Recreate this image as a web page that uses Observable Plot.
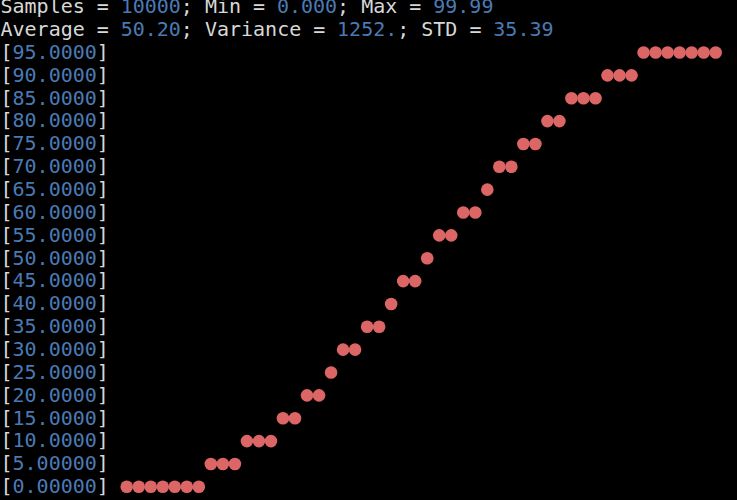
<!DOCTYPE html>
<html>
<head>
<meta charset="utf-8">
<script src="https://cdn.jsdelivr.net/npm/d3@7"></script>
<script src="https://cdn.jsdelivr.net/npm/@observablehq/plot@0.6"></script>
<style>
  html, body { margin: 0; padding: 0; background: #000; overflow: hidden; }
</style>
</head>
<body>
<div id="chart"></div>
<script>
// ---- data ----
const statNames = ["Samples", "Min", "Max", "Average", "Variance", "STD"];
const statValues = ["10000", "0.000", "99.99", "50.20", "1252.", "35.39"];
// bin labels from bottom (0) to top (95)
const binLabels = ["0.00000", "5.00000", "10.0000", "15.0000", "20.0000", "25.0000",
  "30.0000", "35.0000", "40.0000", "45.0000", "50.0000", "55.0000", "60.0000",
  "65.0000", "70.0000", "75.0000", "80.0000", "85.0000", "90.0000", "95.0000"];
// number of dots in each bin row, bottom to top
const binCounts = [7, 3, 3, 2, 2, 1, 2, 2, 1, 2, 1, 2, 2, 1, 2, 2, 2, 3, 3, 7];

// ---- styling ----
const WHITE = "#d8d8d8";
const BLUE = "#4a7ab4";
const DOT = "#dc6565";
const FONT = "DejaVu Sans Mono";

// ---- build text fragments (column / line units) ----
const fragments = [];
function addLine(line, parts) {
  let col = 0;
  for (const [text, color] of parts) {
    fragments.push({ line, col, text, color });
    col += text.length;
  }
  return col;
}
addLine(0, [
  [statNames[0] + " = ", WHITE], [statValues[0], BLUE],
  ["; " + statNames[1] + " = ", WHITE], [statValues[1], BLUE],
  ["; " + statNames[2] + " = ", WHITE], [statValues[2], BLUE]
]);
addLine(1, [
  [statNames[3] + " = ", WHITE], [statValues[3], BLUE],
  ["; " + statNames[4] + " = ", WHITE], [statValues[4], BLUE],
  ["; " + statNames[5] + " = ", WHITE], [statValues[5], BLUE]
]);
const nBins = binLabels.length;
let labelWidth = 0;
binLabels.forEach((lab, k) => {
  const line = 2 + (nBins - 1 - k);
  labelWidth = Math.max(labelWidth, addLine(line, [["[", WHITE], [lab, BLUE], ["]", WHITE]]));
});

// dots: each row continues from where the previous row ended
const dots = [];
let cum = 0;
binCounts.forEach((c, k) => {
  const line = 2 + (nBins - 1 - k);
  for (let j = 0; j < c; j++) {
    dots.push({ line, col: labelWidth + 1 + cum + j + 0.5 });
  }
  cum += c;
});

const W = 737, H = 500;
const charW = 12.02;

const plot = Plot.plot({
  width: W,
  height: H,
  margin: 0,
  style: { background: "#000", overflow: "hidden" },
  x: { domain: [0, W / charW], range: [0, W], axis: null },
  y: { domain: [0, 21], range: [6.3, 486.3], axis: null },
  marks: [
    Plot.dot(dots, { x: "col", y: "line", r: 6.3, fill: DOT, stroke: "none" }),
    Plot.text(fragments, {
      x: "col", y: "line", text: "text", fill: "color",
      textAnchor: "start", fontFamily: FONT, fontSize: 20
    })
  ]
});
document.getElementById("chart").appendChild(plot);
</script>
</body>
</html>
